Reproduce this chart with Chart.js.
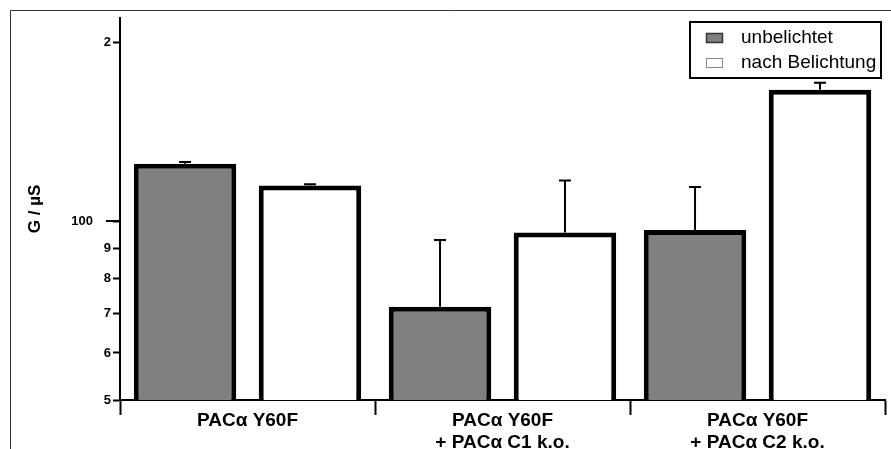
<!DOCTYPE html>
<html>
<head>
<meta charset="utf-8">
<script src="https://cdn.jsdelivr.net/npm/chart.js@4.4.1/dist/chart.umd.min.js"></script>
<style>
  html, body { margin: 0; padding: 0; background: #fff; }
  #wrap { width: 891px; height: 449px; }
</style>
</head>
<body>
<div id="wrap"><canvas id="gChart" width="891" height="449"></canvas></div>
<script>
// groups along the x axis (multi-line labels)
const groups = [
  ['PACα Y60F'],
  ['PACα Y60F', '+ PACα C1 k.o.'],
  ['PACα Y60F', '+ PACα C2 k.o.']
];
const seriesNames = ['unbelichtet', 'nach Belichtung'];

// conductance G in µS, mean and upper error
const darkValues = [125.0, 71.8, 96.7];
const darkErrors = [0.8, 21.2, 17.5];
const lightValues = [114.9, 95.7, 166.6];
const lightErrors = [0.6, 21.4, 4.6];

// log axis: where the ticks go and what is printed there
const yTickValues = [50, 60, 70, 80, 90, 100, 200];
const yTickLabels = ['5', '6', '7', '8', '9', '100     ', '2'];

const errors = [darkErrors, lightErrors];
const FONT = 'Liberation Sans, Arial, sans-serif';

// thin frame line on the left and top
const framePlugin = {
  id: 'frame',
  beforeDraw(chart) {
    const c = chart.ctx;
    c.save();
    c.strokeStyle = '#333';
    c.lineWidth = 1;
    c.beginPath();
    c.moveTo(10.5, chart.height);
    c.lineTo(10.5, 10.5);
    c.lineTo(chart.width, 10.5);
    c.stroke();
    c.restore();
  }
};

// upward error bars with caps
const errorBarPlugin = {
  id: 'errorBars',
  afterDatasetsDraw(chart) {
    const c = chart.ctx;
    const yScale = chart.scales.y;
    c.save();
    c.strokeStyle = '#000';
    c.lineWidth = 2;
    chart.data.datasets.forEach((ds, i) => {
      const meta = chart.getDatasetMeta(i);
      meta.data.forEach((bar, j) => {
        const top = yScale.getPixelForValue(ds.data[j] + errors[i][j]);
        c.beginPath();
        c.moveTo(bar.x, bar.y);
        c.lineTo(bar.x, top);
        c.moveTo(bar.x - 6, top);
        c.lineTo(bar.x + 6, top);
        c.stroke();
      });
    });
    // the 100 tick is a longer one
    const y100 = Math.round(yScale.getPixelForValue(100));
    c.beginPath();
    c.moveTo(chart.chartArea.left - 14, y100);
    c.lineTo(chart.chartArea.left, y100);
    c.stroke();
    c.restore();
  }
};

// boxed legend in the top right corner
const boxLegendPlugin = {
  id: 'boxLegend',
  afterDraw(chart) {
    const c = chart.ctx;
    c.save();
    c.strokeStyle = '#000';
    c.lineWidth = 2;
    c.strokeRect(690, 22, 191, 56);
    c.font = '19px ' + FONT;
    c.textBaseline = 'middle';
    c.fillStyle = '#000';
    chart.data.datasets.forEach((ds, i) => {
      const y = 38 + i * 25;
      c.fillStyle = ds.backgroundColor;
      c.fillRect(706, y - 5, 17, 10);
      c.lineWidth = i === 0 ? 1.5 : 1;
      c.strokeStyle = i === 0 ? '#333' : '#888';
      c.strokeRect(706.5, y - 4.5, 16, 9);
      c.fillStyle = '#000';
      c.fillText(ds.label, 741, y);
    });
    c.restore();
  }
};

const ctx = document.getElementById('gChart').getContext('2d');
const gChart = new Chart(ctx, {
  type: 'bar',
  data: {
    labels: groups,
    datasets: [
      {
        label: seriesNames[0],
        data: darkValues,
        backgroundColor: '#808080',
        borderColor: '#000',
        borderWidth: 5
      },
      {
        label: seriesNames[1],
        data: lightValues,
        backgroundColor: '#ffffff',
        borderColor: '#000',
        borderWidth: 5
      }
    ]
  },
  options: {
    responsive: false,
    animation: false,
    devicePixelRatio: 1,
    categoryPercentage: 0.98,
    barPercentage: 0.82,
    layout: { padding: { top: 18, right: 6, left: 0, bottom: 0 } },
    plugins: {
      legend: { display: false },
      tooltip: { enabled: false }
    },
    scales: {
      x: {
        afterFit: (axis) => { axis.height = 49; },
        grid: { drawOnChartArea: false, offset: true, tickLength: 15, tickWidth: 2, tickColor: '#000' },
        border: { color: '#000', width: 2 },
        ticks: {
          color: '#000',
          font: { family: FONT, size: 19, weight: 'bold', lineHeight: 1.2 },
          padding: -6,
          maxRotation: 0,
          autoSkip: false
        }
      },
      y: {
        type: 'logarithmic',
        min: 50,
        max: 220,
        afterBuildTicks: (axis) => {
          axis.ticks = yTickValues.map(v => ({ value: v }));
        },
        afterFit: (axis) => { axis.width = 120; },
        grid: { drawOnChartArea: false, tickLength: 7, tickWidth: 2, tickColor: '#000' },
        border: { color: '#000', width: 2 },
        ticks: {
          color: '#000',
          font: { family: FONT, size: 13, weight: 'bold' },
          padding: 2,
          autoSkip: false,
          callback: (value, index) => yTickLabels[index]
        },
        title: {
          display: true,
          text: 'G / µS',
          color: '#000',
          font: { family: FONT, size: 17, weight: 'bold' },
          padding: { top: 25, bottom: 0 }
        }
      }
    }
  },
  plugins: [framePlugin, errorBarPlugin, boxLegendPlugin]
});
</script>
</body>
</html>
